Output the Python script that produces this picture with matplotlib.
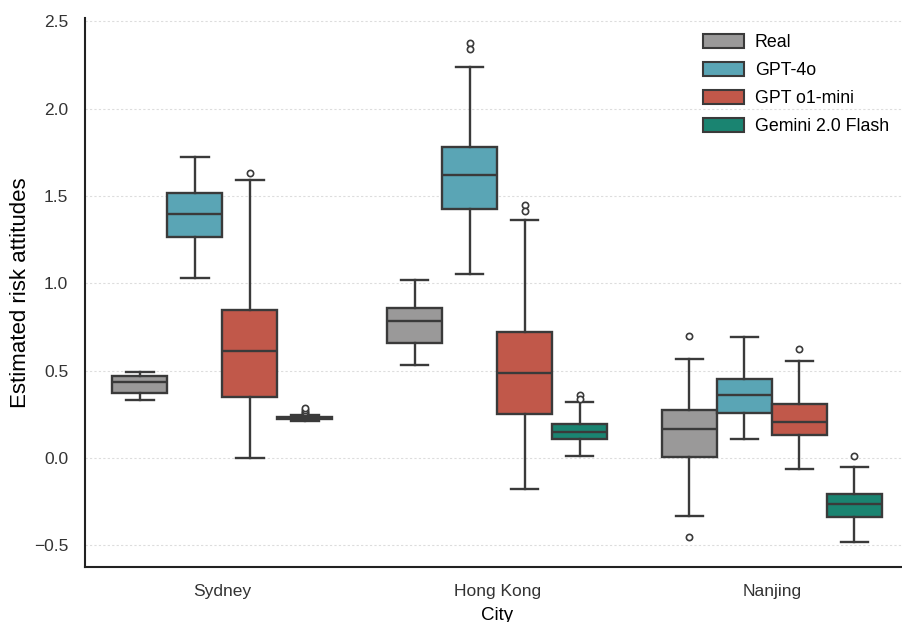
import matplotlib
matplotlib.use("Agg")
import matplotlib.pyplot as plt
from matplotlib.patches import Patch

plt.rcParams['font.family'] = ['Liberation Sans', 'DejaVu Sans']

cities = ["Sydney", "Hong Kong", "Nanjing"]
models = ["Real", "GPT-4o", "GPT o1-mini", "Gemini 2.0 Flash"]
colors = ["#9a9999", "#5aa5b5", "#c1584a", "#1a8471"]

# per model: lists over cities
whislo = {
    "Real":             [0.332, 0.534, -0.330],
    "GPT-4o":           [1.028, 1.056, 0.109],
    "GPT o1-mini":      [0.000, -0.177, -0.063],
    "Gemini 2.0 Flash": [0.212, 0.013, -0.479],
}
q1 = {
    "Real":             [0.372, 0.661, 0.005],
    "GPT-4o":           [1.264, 1.426, 0.259],
    "GPT o1-mini":      [0.349, 0.252, 0.133],
    "Gemini 2.0 Flash": [0.222, 0.106, -0.336],
}
med = {
    "Real":             [0.435, 0.785, 0.166],
    "GPT-4o":           [1.398, 1.619, 0.360],
    "GPT o1-mini":      [0.614, 0.488, 0.208],
    "Gemini 2.0 Flash": [0.228, 0.150, -0.263],
}
q3 = {
    "Real":             [0.471, 0.856, 0.272],
    "GPT-4o":           [1.516, 1.781, 0.452],
    "GPT o1-mini":      [0.848, 0.719, 0.311],
    "Gemini 2.0 Flash": [0.234, 0.194, -0.208],
}
whishi = {
    "Real":             [0.492, 1.018, 0.566],
    "GPT-4o":           [1.722, 2.238, 0.692],
    "GPT o1-mini":      [1.592, 1.365, 0.555],
    "Gemini 2.0 Flash": [0.245, 0.322, -0.055],
}
fliers = {
    "Real":             [[], [], [0.696, -0.456]],
    "GPT-4o":           [[], [2.374, 2.342], []],
    "GPT o1-mini":      [[1.630], [1.449, 1.417], [0.621]],
    "Gemini 2.0 Flash": [[0.255, 0.265, 0.275, 0.285], [0.362, 0.337], [0.011]],
}

fig = plt.figure(figsize=(9.02, 6.22), dpi=100)
ax = fig.add_axes([85/902, 55/622, 1 - 85/902 + 0.008, 1 - 55/622 - 18/622])

line_c = "#3a3a3a"
lw = 1.7
n = len(models)
bw = 0.8 / n
for j, m in enumerate(models):
    stats = []
    for i in range(len(cities)):
        stats.append(dict(whislo=whislo[m][i], q1=q1[m][i], med=med[m][i],
                          q3=q3[m][i], whishi=whishi[m][i], fliers=fliers[m][i]))
    pos = [i - 0.4 + bw * (j + 0.5) for i in range(len(cities))]
    ax.bxp(stats, positions=pos, widths=bw, patch_artist=True, showfliers=True,
           boxprops=dict(facecolor=colors[j], edgecolor=line_c, linewidth=lw),
           medianprops=dict(color=line_c, linewidth=lw),
           whiskerprops=dict(color=line_c, linewidth=lw),
           capprops=dict(color=line_c, linewidth=lw),
           capwidths=bw * 0.5,
           flierprops=dict(marker='o', markersize=4.5, markerfacecolor='white',
                           markeredgecolor=line_c, markeredgewidth=1.2),
           manage_ticks=False)

ax.set_xlim(-0.5, 2.5)
ax.set_ylim(-0.625, 2.52)
ax.set_xticks(range(len(cities)))
ax.set_xticklabels(cities, fontsize=12.5)
ax.set_yticks([-0.5, 0.0, 0.5, 1.0, 1.5, 2.0, 2.5])
ax.set_yticklabels(["\u22120.5", "0.0", "0.5", "1.0", "1.5", "2.0", "2.5"], fontsize=12.5)
ax.tick_params(axis='y', length=0, pad=12, colors="#333333")
ax.tick_params(axis='x', length=0, pad=12, colors="#333333")
ax.set_xlabel("City", fontsize=13.5)
ax.xaxis.set_label_coords(0.5, -0.072)
ax.xaxis.label.set_va('top')
ax.set_ylabel("Estimated risk attitudes", fontsize=16)
ax.yaxis.set_label_coords(-0.066, 0.5)
ax.yaxis.grid(True, linestyle=(0, (2, 2)), color="#dddddd", linewidth=0.8)
ax.set_axisbelow(True)
for s in ["top", "right"]:
    ax.spines[s].set_visible(False)
for s in ["left", "bottom"]:
    ax.spines[s].set_color("#222222")
    ax.spines[s].set_linewidth(1.5)

handles = [Patch(facecolor=c, edgecolor=line_c, linewidth=1.5, label=m)
           for c, m in zip(colors, models)]
ax.legend(handles=handles, loc='upper right', bbox_to_anchor=(0.995, 1.0),
          frameon=False, fontsize=12.8, handlelength=2.35, handleheight=0.85,
          labelspacing=0.6, handletextpad=0.6)

fig.savefig("out.png", dpi=100)
